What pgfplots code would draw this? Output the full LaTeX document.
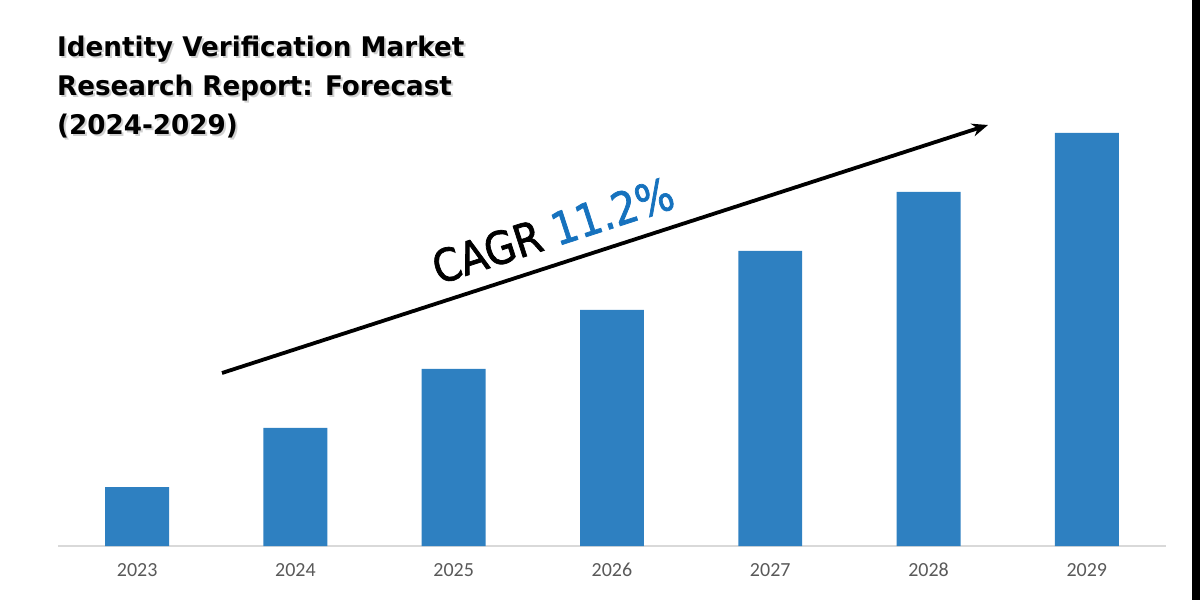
\documentclass[border=0pt]{standalone}
\usepackage{fontspec}
\setmainfont{Carlito}
\newfontfamily\titlefont{DejaVu Sans}[FakeStretch=0.97]
\newfontfamily\cagrfont{DejaVu Sans}[FakeStretch=0.88, FakeBold=1.6]
\usepackage{pgfplots}
\pgfplotsset{compat=1.18}
\usetikzlibrary{arrows.meta}
\definecolor{barblue}{RGB}{46,128,193}
\definecolor{cagrblue}{RGB}{22,114,190}
\definecolor{ticktext}{RGB}{89,89,89}
\definecolor{axisgray}{RGB}{217,217,217}
\begin{document}
\begin{tikzpicture}[x=1pt,y=1pt]
\path[use as bounding box] (0,0) rectangle (1200,600);
\fill[black] (1192,0) rectangle (1200,600);
\begin{axis}[
  at={(58pt,54pt)}, anchor=south west,
  scale only axis, width=1108pt, height=413pt,
  xmin=-0.5, xmax=6.5, ymin=0, ymax=7,
  axis x line=bottom, axis y line=none,
  x axis line style={draw=axisgray, line width=1.5pt, -},
  xtick=data,
  xticklabels={2023,2024,2025,2026,2027,2028,2029},
  major tick length=0pt,
  xticklabel style={font=\fontsize{20}{24}\selectfont, text=ticktext, inner sep=0pt, anchor=north, yshift=-17pt},
  ybar, bar width=0.404,
]
\addplot[fill=barblue, draw=none] coordinates {(0,1) (1,2) (2,3) (3,4) (4,5) (5,6) (6,7)};
\end{axis}
% title
\foreach \t/\y in {{Identity Verification Market}/543, {Research Report: Forecast}/504, {(2024-2029)}/465}{
  \node[anchor=base west, inner sep=0pt, text=black!18] at (59,\y-2) {\titlefont\bfseries\fontsize{27}{30}\selectfont \t};
  \node[anchor=base west, inner sep=0pt] at (57,\y) {\titlefont\bfseries\fontsize{27}{30}\selectfont \t};
}
% arrow
\draw[line width=3.8pt, -{Stealth[length=16pt,width=13pt]}] (222,227) -- (988,475);
\node[anchor=base, rotate=17.94, inner sep=0pt] at (558,354) {\cagrfont\fontsize{45}{48}\selectfont CAGR \textcolor{cagrblue}{11.2\%}};
\end{tikzpicture}
\end{document}
